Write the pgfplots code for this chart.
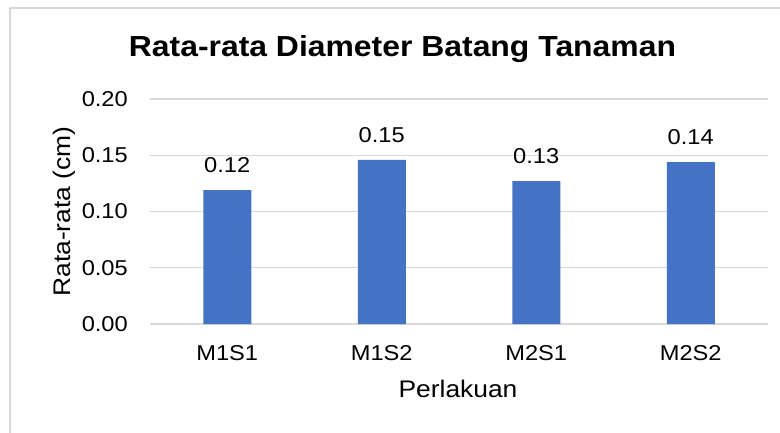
\documentclass[border=0pt]{standalone}
\usepackage{fontspec}
\setmainfont{Liberation Sans}[FakeStretch=1.1]
\usepackage{pgfplots}
\pgfplotsset{compat=1.18}
\definecolor{barblue}{HTML}{4472C4}
\definecolor{gridgray}{HTML}{D9D9D9}
\begin{document}
\begin{tikzpicture}[x=1pt,y=1pt]
\begin{axis}[
  at={(150pt,108pt)}, anchor=south west,
  width=618pt, height=225pt, scale only axis,
  xmin=-0.5, xmax=3.5, ymin=0, ymax=0.2,
  xtick={0,1,2,3}, xticklabels={M1S1,M1S2,M2S1,M2S2},
  ytick={0,0.05,0.1,0.15,0.2},
  ybar, bar width=48pt, bar shift=0pt,
  axis line style={draw=none},
  major tick length=0pt,
  ymajorgrids, grid style={gridgray, line width=1.3pt},
  /pgf/number format/assume math mode=true,
  yticklabel style={/pgf/number format/.cd, fixed, fixed zerofill, precision=2, /tikz/.cd,
    font=\fontsize{21.5}{24}\selectfont, inner sep=0pt, anchor=east, xshift=-22pt},
  xticklabel style={font=\fontsize{21.5}{24}\selectfont, inner sep=0pt, anchor=north, yshift=-21pt},
  nodes near coords,
  nodes near coords style={/pgf/number format/.cd, fixed, fixed zerofill, precision=2, /tikz/.cd,
    font=\fontsize{21.5}{24}\selectfont, inner sep=0pt, anchor=south, yshift=17pt, text=black},
  clip=false,
]
\addplot[fill=barblue, draw=none] coordinates {(0,0.119) (1,0.146) (2,0.127) (3,0.144)};
\end{axis}
\node[anchor=base, font=\bfseries\fontsize{29}{32}\selectfont] at (402.5,375) {Rata-rata Diameter Batang Tanaman};
\node[anchor=base, font=\fontsize{24}{27}\selectfont] at (458,35) {Perlakuan};
\node[anchor=base, rotate=90, font=\fontsize{24}{27}\selectfont] at (70,220.5) {Rata-rata (cm)};
\draw[gridgray, line width=1.5pt] (10,-20) -- (10,424) -- (820,424);
\pgfresetboundingbox
\path[use as bounding box] (0,0) rectangle (780,432);
\end{tikzpicture}
\end{document}
